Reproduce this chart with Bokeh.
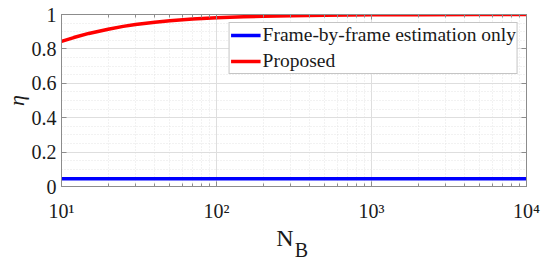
from bokeh.plotting import figure
from bokeh.models import (Range1d, LogAxis, LinearAxis, FixedTicker, LogTicker,
                          Legend, LegendItem)
from bokeh.embed import file_html
from bokeh.resources import INLINE

# Data
n_blocks = [10, 12, 15, 20, 25, 30, 40, 50, 70, 100, 150, 200, 300, 500,
            1000, 2000, 5000, 10000]
eta_frame_only = [0.045] * len(n_blocks)
eta_proposed = [0.844, 0.866, 0.89, 0.914, 0.931, 0.942, 0.955, 0.964, 0.974,
                0.981, 0.987, 0.99, 0.993, 0.996, 0.998, 0.999, 0.9995, 1.0]

y_ticks = [0, 0.2, 0.4, 0.6, 0.8, 1]
y_minor = [0.05, 0.1, 0.15, 0.25, 0.3, 0.35, 0.45, 0.5, 0.55, 0.65, 0.7, 0.75,
           0.85, 0.9, 0.95]
y_labels = {0: "0", 0.2: "0.2", 0.4: "0.4", 0.6: "0.6", 0.8: "0.8", 1: "1"}
x_labels = {10: "10\u00b9", 100: "10\u00b2", 1000: "10\u00b3", 10000: "10\u2074"}
x_title_main = "N\u00a0\u00a0\u00a0"
x_title_sub = "\u00a0\u00a0\u00a0B"
y_title = "\u03b7"

FONT = "Liberation Serif"
AX = "#8c8c8c"
TXT = "#1a1a1a"

p = figure(width=550, height=263, x_axis_type="log",
           x_range=Range1d(10, 10000), y_range=Range1d(0, 1),
           output_backend="svg", toolbar_location=None,
           min_border_left=58, min_border_right=24, min_border_top=14,
           min_border_bottom=76)
p.outline_line_color = AX
p.background_fill_color = "white"
p.border_fill_color = "white"

xt = LogTicker(num_minor_ticks=10)
yt = FixedTicker(ticks=y_ticks, minor_ticks=y_minor)

xa = p.xaxis[0]
xa.ticker = xt
xa.major_label_overrides = x_labels
xa.axis_label = x_title_main
xa.axis_label_text_font = FONT
xa.axis_label_text_font_style = "normal"
xa.axis_label_text_font_size = "24px"
xa.axis_label_text_color = TXT
xa.axis_label_standoff = 0

ya = p.yaxis[0]
ya.ticker = yt
ya.major_label_overrides = y_labels
ya.axis_label = y_title
ya.axis_label_text_font = FONT
ya.axis_label_text_font_style = "italic"
ya.axis_label_text_font_size = "22px"
ya.axis_label_text_color = TXT
ya.axis_label_standoff = 0

for ax in (xa, ya):
    ax.major_label_text_font = FONT
    ax.major_label_text_font_size = "20px"
    ax.major_label_text_color = TXT
    ax.axis_line_color = AX
    ax.major_tick_line_color = AX
    ax.minor_tick_line_color = AX
    ax.major_tick_in = 5
    ax.major_tick_out = 0
    ax.minor_tick_in = 3
    ax.minor_tick_out = 0
xa.major_label_standoff = 13
ya.major_label_standoff = 5
ya.minor_tick_in = 0

# second (empty) bottom axis that only carries the subscript of the x title
sub = LogAxis(ticker=FixedTicker(ticks=[]), axis_line_color=None,
              major_tick_line_color=None, minor_tick_line_color=None,
              major_tick_in=0, major_tick_out=0, minor_tick_in=0, minor_tick_out=0,
              major_label_standoff=0, major_label_text_font_size="1px",
              axis_label=x_title_sub, axis_label_text_font=FONT,
              axis_label_text_font_style="normal", axis_label_text_font_size="20px",
              axis_label_text_color=TXT, axis_label_standoff=-15)
p.add_layout(sub, "below")

top = LogAxis(ticker=LogTicker(num_minor_ticks=10), major_label_text_font_size="1px",
              major_label_text_alpha=0,
              axis_line_color=AX, major_tick_line_color=AX, minor_tick_line_color=AX,
              major_tick_in=5, major_tick_out=0, minor_tick_in=3, minor_tick_out=0,
              major_label_standoff=0)
right = LinearAxis(ticker=FixedTicker(ticks=y_ticks, minor_ticks=y_minor),
                   major_label_text_font_size="1px", major_label_text_alpha=0,
                   axis_line_color=AX, major_tick_line_color=AX,
                   major_tick_in=5, major_tick_out=0, minor_tick_in=0, minor_tick_out=0,
                   major_label_standoff=0)
p.add_layout(top, "above")
p.add_layout(right, "right")

p.xgrid.ticker = xt
p.ygrid.ticker = yt
for g in (p.xgrid, p.ygrid):
    g.grid_line_color = "#dedede"
    g.grid_line_width = 1
    g.minor_grid_line_color = "#e4e4e4"
    g.minor_grid_line_dash = "1 2"

r_blue = p.line(n_blocks, eta_frame_only, line_color="#0000ff", line_width=3.5)
r_red = p.line(n_blocks, eta_proposed, line_color="#ff0000", line_width=3.5)

legend = Legend(items=[LegendItem(label="Frame-by-frame estimation only", renderers=[r_blue]),
                       LegendItem(label="Proposed", renderers=[r_red])],
                location="top_right", margin=8, padding=1, spacing=4,
                glyph_width=30, glyph_height=20, label_height=20, label_standoff=2,
                label_text_font=FONT, label_text_font_size="19.5px",
                label_text_color=TXT,
                border_line_color=AX, border_line_width=1,
                background_fill_color="white", background_fill_alpha=1)
p.add_layout(legend, "center")

open("out.html", "w").write(file_html(p, INLINE))
